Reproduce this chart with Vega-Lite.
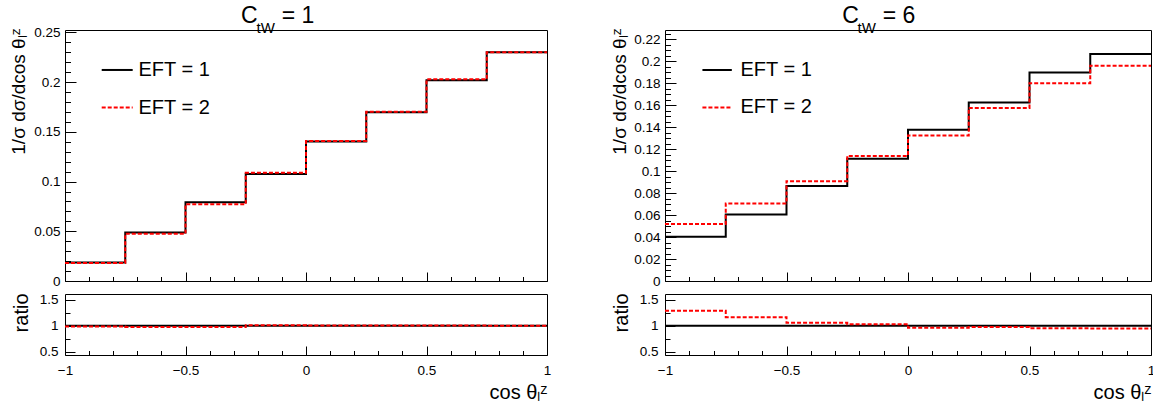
{
  "$schema": "https://vega.github.io/schema/vega-lite/v6.json",
  "padding": {"left": 8, "top": 4, "right": 1, "bottom": 1},
  "background": "white",
  "config": {
    "font": "Liberation Sans",
    "view": {"stroke": "#000", "strokeWidth": 1},
    "axis": {"grid": false, "domain": false, "tickColor": "#000", "tickWidth": 1, "labelColor": "#000", "labelFont": "Liberation Sans", "labelFontSize": 13.5, "titleFont": "Liberation Sans", "titleFontWeight": "normal", "titleColor": "#000", "labelFlush": false, "labelOverlap": false, "labelBound": false}
  },
  "datasets": {
    "hist": [
      {"panel": "1", "series": "EFT = 1", "lo": -1, "hi": -0.75, "value": 0.0185, "ratio": 1},
      {"panel": "1", "series": "EFT = 1", "lo": -0.75, "hi": -0.5, "value": 0.0488, "ratio": 1},
      {"panel": "1", "series": "EFT = 1", "lo": -0.5, "hi": -0.25, "value": 0.0791, "ratio": 1},
      {"panel": "1", "series": "EFT = 1", "lo": -0.25, "hi": 0, "value": 0.1077, "ratio": 1},
      {"panel": "1", "series": "EFT = 1", "lo": 0, "hi": 0.25, "value": 0.1404, "ratio": 1},
      {"panel": "1", "series": "EFT = 1", "lo": 0.25, "hi": 0.5, "value": 0.1697, "ratio": 1},
      {"panel": "1", "series": "EFT = 1", "lo": 0.5, "hi": 0.75, "value": 0.2020, "ratio": 1},
      {"panel": "1", "series": "EFT = 1", "lo": 0.75, "hi": 1, "value": 0.2300, "ratio": 1},
      {"panel": "1", "series": "EFT = 2", "lo": -1, "hi": -0.75, "value": 0.0182, "ratio": 0.985},
      {"panel": "1", "series": "EFT = 2", "lo": -0.75, "hi": -0.5, "value": 0.0476, "ratio": 0.975},
      {"panel": "1", "series": "EFT = 2", "lo": -0.5, "hi": -0.25, "value": 0.0773, "ratio": 0.975},
      {"panel": "1", "series": "EFT = 2", "lo": -0.25, "hi": 0, "value": 0.1088, "ratio": 1.01},
      {"panel": "1", "series": "EFT = 2", "lo": 0, "hi": 0.25, "value": 0.1408, "ratio": 1.005},
      {"panel": "1", "series": "EFT = 2", "lo": 0.25, "hi": 0.5, "value": 0.1703, "ratio": 1.005},
      {"panel": "1", "series": "EFT = 2", "lo": 0.5, "hi": 0.75, "value": 0.2030, "ratio": 1.005},
      {"panel": "1", "series": "EFT = 2", "lo": 0.75, "hi": 1, "value": 0.2302, "ratio": 1.0},
      {"panel": "6", "series": "EFT = 1", "lo": -1, "hi": -0.75, "value": 0.0403, "ratio": 1},
      {"panel": "6", "series": "EFT = 1", "lo": -0.75, "hi": -0.5, "value": 0.0606, "ratio": 1},
      {"panel": "6", "series": "EFT = 1", "lo": -0.5, "hi": -0.25, "value": 0.0864, "ratio": 1},
      {"panel": "6", "series": "EFT = 1", "lo": -0.25, "hi": 0, "value": 0.1112, "ratio": 1},
      {"panel": "6", "series": "EFT = 1", "lo": 0, "hi": 0.25, "value": 0.1376, "ratio": 1},
      {"panel": "6", "series": "EFT = 1", "lo": 0.25, "hi": 0.5, "value": 0.1624, "ratio": 1},
      {"panel": "6", "series": "EFT = 1", "lo": 0.5, "hi": 0.75, "value": 0.1897, "ratio": 1},
      {"panel": "6", "series": "EFT = 1", "lo": 0.75, "hi": 1, "value": 0.2067, "ratio": 1},
      {"panel": "6", "series": "EFT = 2", "lo": -1, "hi": -0.75, "value": 0.0518, "ratio": 1.287},
      {"panel": "6", "series": "EFT = 2", "lo": -0.75, "hi": -0.5, "value": 0.0706, "ratio": 1.166},
      {"panel": "6", "series": "EFT = 2", "lo": -0.5, "hi": -0.25, "value": 0.0909, "ratio": 1.058},
      {"panel": "6", "series": "EFT = 2", "lo": -0.25, "hi": 0, "value": 0.1139, "ratio": 1.030},
      {"panel": "6", "series": "EFT = 2", "lo": 0, "hi": 0.25, "value": 0.1324, "ratio": 0.965},
      {"panel": "6", "series": "EFT = 2", "lo": 0.25, "hi": 0.5, "value": 0.1576, "ratio": 0.975},
      {"panel": "6", "series": "EFT = 2", "lo": 0.5, "hi": 0.75, "value": 0.1800, "ratio": 0.952},
      {"panel": "6", "series": "EFT = 2", "lo": 0.75, "hi": 1, "value": 0.1960, "ratio": 0.949}
    ]
  },
  "columns": 2,
  "spacing": {"row": 13, "column": 118},
  "bounds": "flush",
  "align": "each",
  "concat": [
    {
      "width": 482, "height": 251,
      "data": {"name": "hist"},
      "transform": [{"filter": "datum.panel == '1'"}, {"fold": ["lo", "hi"], "as": ["edge", "xv"]}],
      "resolve": {"axis": {"x": "independent", "y": "independent"}},
      "layer": [
        {
          "transform": [{"filter": "datum.series == 'EFT = 1'"}],
          "mark": {"type": "line", "color": "#000", "strokeWidth": 2, "strokeJoin": "miter"},
          "encoding": {
            "x": {"field": "xv", "type": "quantitative", "scale": {"domain": [-1, 1], "nice": false, "zero": false},
              "axis": {"orient": "bottom", "values": [-1, -0.5, 0, 0.5, 1], "tickSize": -9, "labels": false, "title": null}},
            "y": {"field": "value", "type": "quantitative", "scale": {"domain": [0, 0.2525], "nice": false, "zero": false},
              "axis": {"orient": "left", "values": [0, 0.05, 0.1, 0.15, 0.2, 0.25], "format": "~g", "tickSize": -11, "labelPadding": 16,
                "title": "1/σ dσ/dcos θₗᶻ", "titleFontSize": 19, "titleAngle": 270, "titleAlign": "right", "titleBaseline": "middle", "titleX": -47, "titleY": -2}},
            "order": [{"field": "xv", "type": "quantitative"}, {"field": "edge", "type": "ordinal"}]
          }
        },
        {
          "transform": [{"filter": "datum.series == 'EFT = 2'"}],
          "mark": {"type": "line", "color": "#ff0000", "strokeWidth": 2, "strokeDash": [4, 2]},
          "encoding": {
            "x": {"field": "xv", "type": "quantitative", "axis": null},
            "y": {"field": "value", "type": "quantitative", "axis": null},
            "order": [{"field": "xv", "type": "quantitative"}, {"field": "edge", "type": "ordinal"}]
          }
        },
        {
          "data": {"values": [{}]},
          "mark": {"type": "point", "opacity": 0},
          "encoding": {
            "x": {"datum": 0, "type": "quantitative", "axis": {"orient": "bottom", "values": [-0.9, -0.8, -0.7, -0.6, -0.4, -0.3, -0.2, -0.1, 0.1, 0.2, 0.3, 0.4, 0.6, 0.7, 0.8, 0.9], "tickSize": -4.5, "labels": false, "title": null}},
            "y": {"datum": 0.1, "type": "quantitative", "axis": {"orient": "left", "values": [0.01, 0.02, 0.03, 0.04, 0.06, 0.07, 0.08, 0.09, 0.11, 0.12, 0.13, 0.14, 0.16, 0.17, 0.18, 0.19, 0.21, 0.22, 0.23, 0.24], "tickSize": -5.5, "labels": false, "title": null}}
          }
        },
        {
          "data": {"values": [{}]},
          "mark": {"type": "rule", "color": "#000", "strokeWidth": 2},
          "encoding": {"x": {"datum": -0.8477, "type": "quantitative", "axis": null}, "x2": {"datum": -0.7191}, "y": {"datum": 0.2123, "type": "quantitative", "axis": null}}
        },
        {
          "data": {"values": [{}]},
          "mark": {"type": "rule", "color": "#ff0000", "strokeWidth": 2, "strokeDash": [4, 2]},
          "encoding": {"x": {"datum": -0.8477, "type": "quantitative", "axis": null}, "x2": {"datum": -0.7191}, "y": {"datum": 0.1745, "type": "quantitative", "axis": null}}
        },
        {
          "data": {"values": [{}]},
          "mark": {"type": "text", "text": "EFT = 1", "fontSize": 20, "align": "left", "baseline": "middle", "color": "#000"},
          "encoding": {"x": {"datum": -0.695, "type": "quantitative", "axis": null}, "y": {"datum": 0.2123, "type": "quantitative", "axis": null}}
        },
        {
          "data": {"values": [{}]},
          "mark": {"type": "text", "text": "EFT = 2", "fontSize": 20, "align": "left", "baseline": "middle", "color": "#000"},
          "encoding": {"x": {"datum": -0.695, "type": "quantitative", "axis": null}, "y": {"datum": 0.1745, "type": "quantitative", "axis": null}}
        },
        {
          "data": {"values": [{}]},
          "mark": {"type": "text", "text": "C", "fontSize": 23, "align": "left", "baseline": "alphabetic", "color": "#000"},
          "encoding": {"x": {"datum": -0.2693, "type": "quantitative", "axis": null}, "y": {"datum": 0.2592, "type": "quantitative", "axis": null}}
        },
        {
          "data": {"values": [{}]},
          "mark": {"type": "text", "text": "tW", "fontSize": 15, "align": "left", "baseline": "alphabetic", "color": "#000"},
          "encoding": {"x": {"datum": -0.2054, "type": "quantitative", "axis": null}, "y": {"datum": 0.2495, "type": "quantitative", "axis": null}}
        },
        {
          "data": {"values": [{}]},
          "mark": {"type": "text", "text": "= 1", "fontSize": 23, "align": "left", "baseline": "alphabetic", "color": "#000"},
          "encoding": {"x": {"datum": -0.1008, "type": "quantitative", "axis": null}, "y": {"datum": 0.2592, "type": "quantitative", "axis": null}}
        }
      ]
    },
    {
      "width": 486, "height": 251,
      "data": {"name": "hist"},
      "transform": [{"filter": "datum.panel == '6'"}, {"fold": ["lo", "hi"], "as": ["edge", "xv"]}],
      "resolve": {"axis": {"x": "independent", "y": "independent"}},
      "layer": [
        {
          "transform": [{"filter": "datum.series == 'EFT = 1'"}],
          "mark": {"type": "line", "color": "#000", "strokeWidth": 2, "strokeJoin": "miter"},
          "encoding": {
            "x": {"field": "xv", "type": "quantitative", "scale": {"domain": [-1, 1], "nice": false, "zero": false},
              "axis": {"orient": "bottom", "values": [-1, -0.5, 0, 0.5, 1], "tickSize": -9, "labels": false, "title": null}},
            "y": {"field": "value", "type": "quantitative", "scale": {"domain": [0, 0.2285], "nice": false, "zero": false},
              "axis": {"orient": "left", "values": [0, 0.02, 0.04, 0.06, 0.08, 0.1, 0.12, 0.14, 0.16, 0.18, 0.2, 0.22], "format": "~g", "tickSize": -11, "labelPadding": 16,
                "title": "1/σ dσ/dcos θₗᶻ", "titleFontSize": 19, "titleAngle": 270, "titleAlign": "right", "titleBaseline": "middle", "titleX": -46, "titleY": -2}},
            "order": [{"field": "xv", "type": "quantitative"}, {"field": "edge", "type": "ordinal"}]
          }
        },
        {
          "transform": [{"filter": "datum.series == 'EFT = 2'"}],
          "mark": {"type": "line", "color": "#ff0000", "strokeWidth": 2, "strokeDash": [4, 2]},
          "encoding": {
            "x": {"field": "xv", "type": "quantitative", "axis": null},
            "y": {"field": "value", "type": "quantitative", "axis": null},
            "order": [{"field": "xv", "type": "quantitative"}, {"field": "edge", "type": "ordinal"}]
          }
        },
        {
          "data": {"values": [{}]},
          "mark": {"type": "point", "opacity": 0},
          "encoding": {
            "x": {"datum": 0, "type": "quantitative", "axis": {"orient": "bottom", "values": [-0.9, -0.8, -0.7, -0.6, -0.4, -0.3, -0.2, -0.1, 0.1, 0.2, 0.3, 0.4, 0.6, 0.7, 0.8, 0.9], "tickSize": -4.5, "labels": false, "title": null}},
            "y": {"datum": 0.1, "type": "quantitative", "axis": {"orient": "left", "values": [0.005, 0.01, 0.015, 0.025, 0.03, 0.035, 0.045, 0.05, 0.055, 0.065, 0.07, 0.075, 0.085, 0.09, 0.095, 0.105, 0.11, 0.115, 0.125, 0.13, 0.135, 0.145, 0.15, 0.155, 0.165, 0.17, 0.175, 0.185, 0.19, 0.195, 0.205, 0.21, 0.215, 0.225], "tickSize": -5.5, "labels": false, "title": null}}
          }
        },
        {
          "data": {"values": [{}]},
          "mark": {"type": "rule", "color": "#000", "strokeWidth": 2},
          "encoding": {"x": {"datum": -0.846, "type": "quantitative", "axis": null}, "x2": {"datum": -0.725}, "y": {"datum": 0.1921, "type": "quantitative", "axis": null}}
        },
        {
          "data": {"values": [{}]},
          "mark": {"type": "rule", "color": "#ff0000", "strokeWidth": 2, "strokeDash": [4, 2]},
          "encoding": {"x": {"datum": -0.846, "type": "quantitative", "axis": null}, "x2": {"datum": -0.725}, "y": {"datum": 0.1580, "type": "quantitative", "axis": null}}
        },
        {
          "data": {"values": [{}]},
          "mark": {"type": "text", "text": "EFT = 1", "fontSize": 20, "align": "left", "baseline": "middle", "color": "#000"},
          "encoding": {"x": {"datum": -0.6893, "type": "quantitative", "axis": null}, "y": {"datum": 0.1921, "type": "quantitative", "axis": null}}
        },
        {
          "data": {"values": [{}]},
          "mark": {"type": "text", "text": "EFT = 2", "fontSize": 20, "align": "left", "baseline": "middle", "color": "#000"},
          "encoding": {"x": {"datum": -0.6893, "type": "quantitative", "axis": null}, "y": {"datum": 0.1580, "type": "quantitative", "axis": null}}
        },
        {
          "data": {"values": [{}]},
          "mark": {"type": "text", "text": "C", "fontSize": 23, "align": "left", "baseline": "alphabetic", "color": "#000"},
          "encoding": {"x": {"datum": -0.2708, "type": "quantitative", "axis": null}, "y": {"datum": 0.2346, "type": "quantitative", "axis": null}}
        },
        {
          "data": {"values": [{}]},
          "mark": {"type": "text", "text": "tW", "fontSize": 15, "align": "left", "baseline": "alphabetic", "color": "#000"},
          "encoding": {"x": {"datum": -0.2074, "type": "quantitative", "axis": null}, "y": {"datum": 0.2258, "type": "quantitative", "axis": null}}
        },
        {
          "data": {"values": [{}]},
          "mark": {"type": "text", "text": "= 6", "fontSize": 23, "align": "left", "baseline": "alphabetic", "color": "#000"},
          "encoding": {"x": {"datum": -0.1037, "type": "quantitative", "axis": null}, "y": {"datum": 0.2346, "type": "quantitative", "axis": null}}
        }
      ]
    },
    {
      "width": 482, "height": 61,
      "data": {"name": "hist"},
      "transform": [{"filter": "datum.panel == '1'"}, {"fold": ["lo", "hi"], "as": ["edge", "xv"]}],
      "resolve": {"axis": {"x": "independent", "y": "independent"}},
      "layer": [
        {
          "transform": [{"filter": "datum.series == 'EFT = 1'"}],
          "mark": {"type": "line", "color": "#000", "strokeWidth": 2},
          "encoding": {
            "x": {"field": "xv", "type": "quantitative", "scale": {"domain": [-1, 1], "nice": false, "zero": false},
              "axis": {"orient": "bottom", "values": [-1, -0.5, 0, 0.5, 1], "format": "~g", "tickSize": -9, "labelPadding": 17,
                "title": "cos θₗᶻ", "titleFontSize": 20, "titleAlign": "right", "titleBaseline": "alphabetic", "titleX": 482, "titleY": 43}},
            "y": {"field": "ratio", "type": "quantitative", "scale": {"domain": [0.44, 1.61], "nice": false, "zero": false},
              "axis": {"orient": "left", "values": [0.5, 1, 1.5], "format": "~g", "tickSize": -10, "labelPadding": 17,
                "title": "ratio", "titleFontSize": 20, "titleAngle": 270, "titleAlign": "right", "titleBaseline": "middle", "titleX": -44, "titleY": -1}},
            "order": [{"field": "xv", "type": "quantitative"}, {"field": "edge", "type": "ordinal"}]
          }
        },
        {
          "transform": [{"filter": "datum.series == 'EFT = 2'"}],
          "mark": {"type": "line", "color": "#ff0000", "strokeWidth": 2, "strokeDash": [4, 2]},
          "encoding": {
            "x": {"field": "xv", "type": "quantitative", "axis": null},
            "y": {"field": "ratio", "type": "quantitative", "axis": null},
            "order": [{"field": "xv", "type": "quantitative"}, {"field": "edge", "type": "ordinal"}]
          }
        },
        {
          "data": {"values": [{}]},
          "mark": {"type": "point", "opacity": 0},
          "encoding": {
            "x": {"datum": 0, "type": "quantitative", "axis": {"orient": "bottom", "values": [-0.9, -0.8, -0.7, -0.6, -0.4, -0.3, -0.2, -0.1, 0.1, 0.2, 0.3, 0.4, 0.6, 0.7, 0.8, 0.9], "tickSize": -4.5, "labels": false, "title": null}},
            "y": {"datum": 1, "type": "quantitative", "axis": {"orient": "left", "values": [0.75, 1.25], "tickSize": -5, "labels": false, "title": null}}
          }
        }
      ]
    },
    {
      "width": 486, "height": 61,
      "data": {"name": "hist"},
      "transform": [{"filter": "datum.panel == '6'"}, {"fold": ["lo", "hi"], "as": ["edge", "xv"]}],
      "resolve": {"axis": {"x": "independent", "y": "independent"}},
      "layer": [
        {
          "transform": [{"filter": "datum.series == 'EFT = 1'"}],
          "mark": {"type": "line", "color": "#000", "strokeWidth": 2},
          "encoding": {
            "x": {"field": "xv", "type": "quantitative", "scale": {"domain": [-1, 1], "nice": false, "zero": false},
              "axis": {"orient": "bottom", "values": [-1, -0.5, 0, 0.5, 1], "format": "~g", "tickSize": -9, "labelPadding": 17,
                "title": "cos θₗᶻ", "titleFontSize": 20, "titleAlign": "right", "titleBaseline": "alphabetic", "titleX": 486, "titleY": 43}},
            "y": {"field": "ratio", "type": "quantitative", "scale": {"domain": [0.44, 1.61], "nice": false, "zero": false},
              "axis": {"orient": "left", "values": [0.5, 1, 1.5], "format": "~g", "tickSize": -10, "labelPadding": 17,
                "title": "ratio", "titleFontSize": 20, "titleAngle": 270, "titleAlign": "right", "titleBaseline": "middle", "titleX": -44, "titleY": -1}},
            "order": [{"field": "xv", "type": "quantitative"}, {"field": "edge", "type": "ordinal"}]
          }
        },
        {
          "transform": [{"filter": "datum.series == 'EFT = 2'"}],
          "mark": {"type": "line", "color": "#ff0000", "strokeWidth": 2, "strokeDash": [4, 2]},
          "encoding": {
            "x": {"field": "xv", "type": "quantitative", "axis": null},
            "y": {"field": "ratio", "type": "quantitative", "axis": null},
            "order": [{"field": "xv", "type": "quantitative"}, {"field": "edge", "type": "ordinal"}]
          }
        },
        {
          "data": {"values": [{}]},
          "mark": {"type": "point", "opacity": 0},
          "encoding": {
            "x": {"datum": 0, "type": "quantitative", "axis": {"orient": "bottom", "values": [-0.9, -0.8, -0.7, -0.6, -0.4, -0.3, -0.2, -0.1, 0.1, 0.2, 0.3, 0.4, 0.6, 0.7, 0.8, 0.9], "tickSize": -4.5, "labels": false, "title": null}},
            "y": {"datum": 1, "type": "quantitative", "axis": {"orient": "left", "values": [0.75, 1.25], "tickSize": -5, "labels": false, "title": null}}
          }
        }
      ]
    }
  ]
}
